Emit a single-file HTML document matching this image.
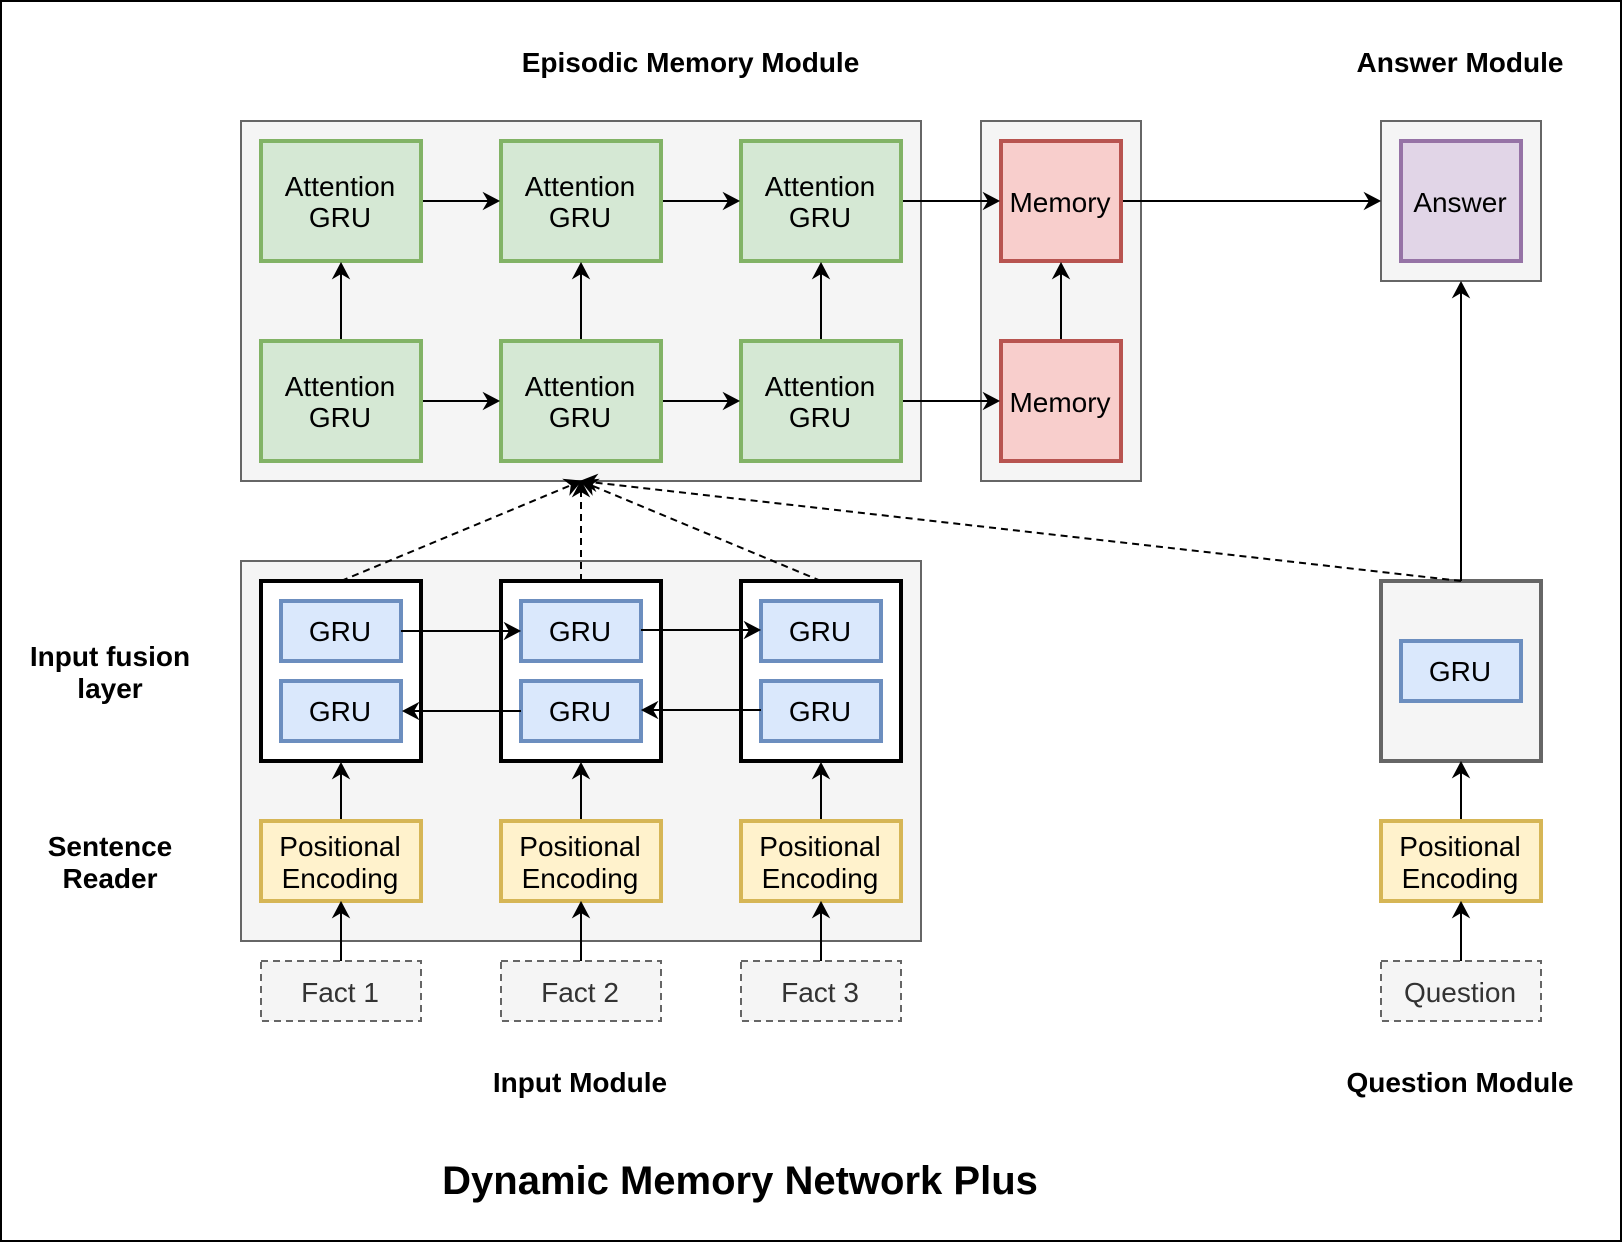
<!DOCTYPE html>
<html lang="en">
<head>
<meta charset="utf-8">
<title>Dynamic Memory Network Plus</title>
<style>
html,body{margin:0;padding:0;background:#fff;width:1622px;height:1242px;overflow:hidden}
svg{display:block}
text{font-family:"Liberation Sans",Helvetica,Arial,sans-serif;font-size:28px;text-anchor:middle;fill:#000}
.b{font-weight:bold}
.t{font-weight:bold;font-size:40px}
.g{fill:#333}
.gr{fill:#f5f5f5;stroke:#666;stroke-width:2}
.att{fill:#d5e8d4;stroke:#82b366;stroke-width:4}
.mem{fill:#f8cecc;stroke:#b85450;stroke-width:4}
.ans{fill:#e1d5e7;stroke:#9673a6;stroke-width:4}
.gru{fill:#dae8fc;stroke:#6c8ebf;stroke-width:4}
.pos{fill:#fff2cc;stroke:#d6b656;stroke-width:4}
.blk{fill:#fff;stroke:#000;stroke-width:4}
.q{fill:#f5f5f5;stroke:#666;stroke-width:4}
.fact{fill:#f5f5f5;stroke:#666;stroke-width:2;stroke-dasharray:7 5}
.a{stroke:#000;stroke-width:2;fill:none;marker-end:url(#arr)}
.d{stroke:#000;stroke-width:2;fill:none;stroke-dasharray:7 5;marker-end:url(#arr)}
</style>
</head>
<body>
<svg width="1622" height="1242" viewBox="0 0 1622 1242" xmlns="http://www.w3.org/2000/svg">
<defs>
<marker id="arr" markerUnits="userSpaceOnUse" markerWidth="22" markerHeight="22" refX="10" refY="9" orient="auto" overflow="visible">
<path d="M16 9 L0.8 1 L5.5 9 L0.8 17 Z" fill="#000" stroke="#000" stroke-width="1" stroke-miterlimit="10"/>
</marker>
</defs>
<rect x="1" y="1" width="1620" height="1240" fill="#fff" stroke="#000" stroke-width="2"/>

<!-- Containers -->
<rect class="gr" x="241" y="121" width="680" height="360"/>
<rect class="gr" x="981" y="121" width="160" height="360"/>
<rect class="gr" x="1381" y="121" width="160" height="160"/>
<rect class="gr" x="241" y="561" width="680" height="380"/>

<!-- Attention GRUs -->
<rect class="att" x="261" y="141" width="160" height="120"/>
<rect class="att" x="501" y="141" width="160" height="120"/>
<rect class="att" x="741" y="141" width="160" height="120"/>
<rect class="att" x="261" y="341" width="160" height="120"/>
<rect class="att" x="501" y="341" width="160" height="120"/>
<rect class="att" x="741" y="341" width="160" height="120"/>
<text x="340" y="196">Attention</text><text x="340" y="227">GRU</text>
<text x="580" y="196">Attention</text><text x="580" y="227">GRU</text>
<text x="820" y="196">Attention</text><text x="820" y="227">GRU</text>
<text x="340" y="396">Attention</text><text x="340" y="427">GRU</text>
<text x="580" y="396">Attention</text><text x="580" y="427">GRU</text>
<text x="820" y="396">Attention</text><text x="820" y="427">GRU</text>

<!-- Memory and Answer -->
<rect class="mem" x="1001" y="141" width="120" height="120"/>
<rect class="mem" x="1001" y="341" width="120" height="120"/>
<rect class="ans" x="1401" y="141" width="120" height="120"/>
<text x="1060" y="212">Memory</text>
<text x="1060" y="412">Memory</text>
<text x="1460" y="212">Answer</text>

<!-- Input fusion -->
<rect class="blk" x="261" y="581" width="160" height="180"/>
<rect class="blk" x="501" y="581" width="160" height="180"/>
<rect class="blk" x="741" y="581" width="160" height="180"/>
<rect class="gru" x="281" y="601" width="120" height="60"/>
<rect class="gru" x="521" y="601" width="120" height="60"/>
<rect class="gru" x="761" y="601" width="120" height="60"/>
<rect class="gru" x="281" y="681" width="120" height="60"/>
<rect class="gru" x="521" y="681" width="120" height="60"/>
<rect class="gru" x="761" y="681" width="120" height="60"/>
<text x="340" y="641">GRU</text><text x="580" y="641">GRU</text><text x="820" y="641">GRU</text>
<text x="340" y="721">GRU</text><text x="580" y="721">GRU</text><text x="820" y="721">GRU</text>

<!-- Positional Encoding -->
<rect class="pos" x="261" y="821" width="160" height="80"/>
<rect class="pos" x="501" y="821" width="160" height="80"/>
<rect class="pos" x="741" y="821" width="160" height="80"/>
<rect class="pos" x="1381" y="821" width="160" height="80"/>
<text x="340" y="856">Positional</text><text x="340" y="888">Encoding</text>
<text x="580" y="856">Positional</text><text x="580" y="888">Encoding</text>
<text x="820" y="856">Positional</text><text x="820" y="888">Encoding</text>
<text x="1460" y="856">Positional</text><text x="1460" y="888">Encoding</text>

<!-- Facts -->
<rect class="fact" x="261" y="961" width="160" height="60"/>
<rect class="fact" x="501" y="961" width="160" height="60"/>
<rect class="fact" x="741" y="961" width="160" height="60"/>
<rect class="fact" x="1381" y="961" width="160" height="60"/>
<text class="g" x="340" y="1002">Fact 1</text>
<text class="g" x="580" y="1002">Fact 2</text>
<text class="g" x="820" y="1002">Fact 3</text>
<text class="g" x="1460" y="1002">Question</text>

<!-- Question GRU -->
<rect class="q" x="1381" y="581" width="160" height="180"/>
<rect class="gru" x="1401" y="641" width="120" height="60"/>
<text x="1460" y="681">GRU</text>

<!-- Solid arrows -->
<line class="a" x1="423" y1="201" x2="493" y2="201"/>
<line class="a" x1="663" y1="201" x2="733" y2="201"/>
<line class="a" x1="903" y1="201" x2="993" y2="201"/>
<line class="a" x1="1123" y1="201" x2="1374" y2="201"/>
<line class="a" x1="423" y1="401" x2="493" y2="401"/>
<line class="a" x1="663" y1="401" x2="733" y2="401"/>
<line class="a" x1="903" y1="401" x2="993" y2="401"/>
<line class="a" x1="341" y1="339" x2="341" y2="269"/>
<line class="a" x1="581" y1="339" x2="581" y2="269"/>
<line class="a" x1="821" y1="339" x2="821" y2="269"/>
<line class="a" x1="1061" y1="339" x2="1061" y2="269"/>
<line class="a" x1="1461" y1="581" x2="1461" y2="288"/>
<line class="a" x1="401" y1="631" x2="514" y2="631"/>
<line class="a" x1="641" y1="630" x2="754" y2="630"/>
<line class="a" x1="521" y1="711" x2="409" y2="711"/>
<line class="a" x1="761" y1="710" x2="648" y2="710"/>
<line class="a" x1="341" y1="819" x2="341" y2="769"/>
<line class="a" x1="581" y1="819" x2="581" y2="769"/>
<line class="a" x1="821" y1="819" x2="821" y2="769"/>
<line class="a" x1="1461" y1="819" x2="1461" y2="768"/>
<line class="a" x1="341" y1="961" x2="341" y2="908"/>
<line class="a" x1="581" y1="961" x2="581" y2="908"/>
<line class="a" x1="821" y1="961" x2="821" y2="908"/>
<line class="a" x1="1461" y1="961" x2="1461" y2="908"/>

<!-- Dashed arrows -->
<line class="d" x1="341" y1="581" x2="575.46" y2="483.31"/>
<line class="d" x1="581" y1="581" x2="581" y2="487"/>
<line class="d" x1="821" y1="581" x2="586.54" y2="483.31"/>
<line class="d" x1="1461" y1="581" x2="586.96" y2="481.68"/>

<!-- Headings -->
<text class="b" x="690.5" y="72">Episodic Memory Module</text>
<text class="b" x="1460" y="72">Answer Module</text>
<text class="b" x="110" y="666">Input fusion</text>
<text class="b" x="110" y="698">layer</text>
<text class="b" x="110" y="856">Sentence</text>
<text class="b" x="110" y="888">Reader</text>
<text class="b" x="580" y="1092">Input Module</text>
<text class="b" x="1460" y="1092">Question Module</text>
<text class="t" x="740" y="1194">Dynamic Memory Network Plus</text>
</svg>
</body>
</html>
